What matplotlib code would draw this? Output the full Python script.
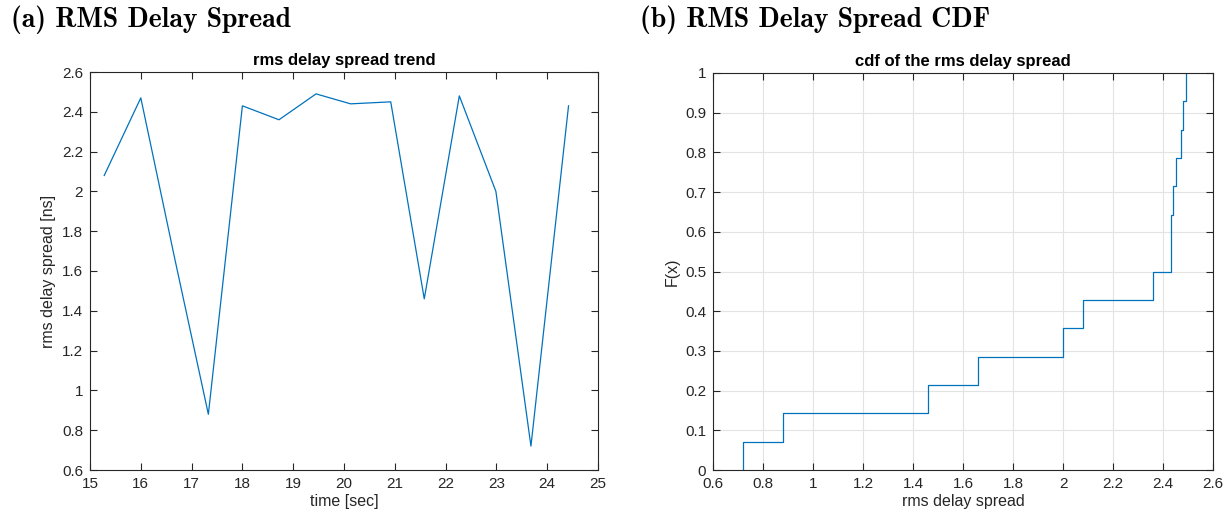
import matplotlib
matplotlib.use("Agg")
import matplotlib.pyplot as plt
import numpy as np
from matplotlib.ticker import FormatStrFormatter

# rms delay spread measured over time
time_sec = [15.28, 16.0, 16.67, 17.33, 18.0, 18.72, 19.45, 20.13, 20.92,
            21.58, 22.27, 22.99, 23.68, 24.42]
rms_ns = [2.08, 2.47, 1.66, 0.88, 2.43, 2.36, 2.49, 2.44, 2.45,
          1.46, 2.48, 2.00, 0.72, 2.43]

left_xticks = np.arange(15, 26, 1)
left_yticks = [0.6, 0.8, 1.0, 1.2, 1.4, 1.6, 1.8, 2.0, 2.2, 2.4, 2.6]
right_xticks = [0.6, 0.8, 1.0, 1.2, 1.4, 1.6, 1.8, 2.0, 2.2, 2.4, 2.6]
right_yticks = [0, 0.1, 0.2, 0.3, 0.4, 0.5, 0.6, 0.7, 0.8, 0.9, 1.0]

plt.rcParams['font.family'] = ['Liberation Sans', 'DejaVu Sans']
fg = '#262626'
blue = '#0072BD'

W, H = 1227, 521
fig = plt.figure(figsize=(W / 100, H / 100), dpi=100)


def px_axes(l, r, t, b):
    return fig.add_axes([l / W, (H - b) / H, (r - l) / W, (b - t) / H])


def style(ax):
    for s in ax.spines.values():
        s.set_color(fg)
        s.set_linewidth(0.8)
    ax.tick_params(direction='in', length=5, width=0.8, colors=fg,
                   labelsize=11, top=True, right=True, pad=5)
    ax.xaxis.set_major_formatter(FormatStrFormatter('%g'))
    ax.yaxis.set_major_formatter(FormatStrFormatter('%g'))


ax1 = px_axes(90, 598, 72, 470)
ax1.plot(time_sec, rms_ns, color=blue, lw=0.9)
ax1.set_xlim(15, 25)
ax1.set_ylim(0.6, 2.6)
ax1.set_xticks(left_xticks)
ax1.set_yticks(left_yticks)
style(ax1)
ax1.set_title('rms delay spread trend', fontsize=12, fontweight='bold',
              color='black', pad=5)
ax1.set_xlabel('time [sec]', fontsize=11.5, color=fg, labelpad=2)
ax1.set_ylabel('rms delay spread [ns]', fontsize=11.5, color=fg, labelpad=4)

# empirical cdf of the same samples
vals = np.sort(rms_ns)
n = len(vals)
xs = np.concatenate([[vals[0]], vals])
ys = np.arange(0, n + 1) / n

ax2 = px_axes(713, 1213, 73, 470)
ax2.step(xs, ys, where='post', color=blue, lw=0.9)
ax2.set_xlim(0.6, 2.6)
ax2.set_ylim(0, 1)
ax2.set_xticks(right_xticks)
ax2.set_yticks(right_yticks)
ax2.grid(True, color='#e3e3e3', lw=0.8)
ax2.set_axisbelow(True)
style(ax2)
ax2.set_title('cdf of the rms delay spread', fontsize=12, fontweight='bold',
              color='black', pad=5)
ax2.set_xlabel('rms delay spread', fontsize=11.5, color=fg, labelpad=2)
ax2.set_ylabel('F(x)', fontsize=11.5, color=fg, labelpad=4)

# panel headings
fig.text(11 / W, 1 - 27 / H, '(a) RMS Delay Spread', family='cmb10',
         fontsize=20, color='black', ha='left', va='baseline')
fig.text(640 / W, 1 - 27 / H, '(b) RMS Delay Spread CDF', family='cmb10',
         fontsize=20, color='black', ha='left', va='baseline')

fig.savefig('out.png', dpi=100, facecolor='white')
